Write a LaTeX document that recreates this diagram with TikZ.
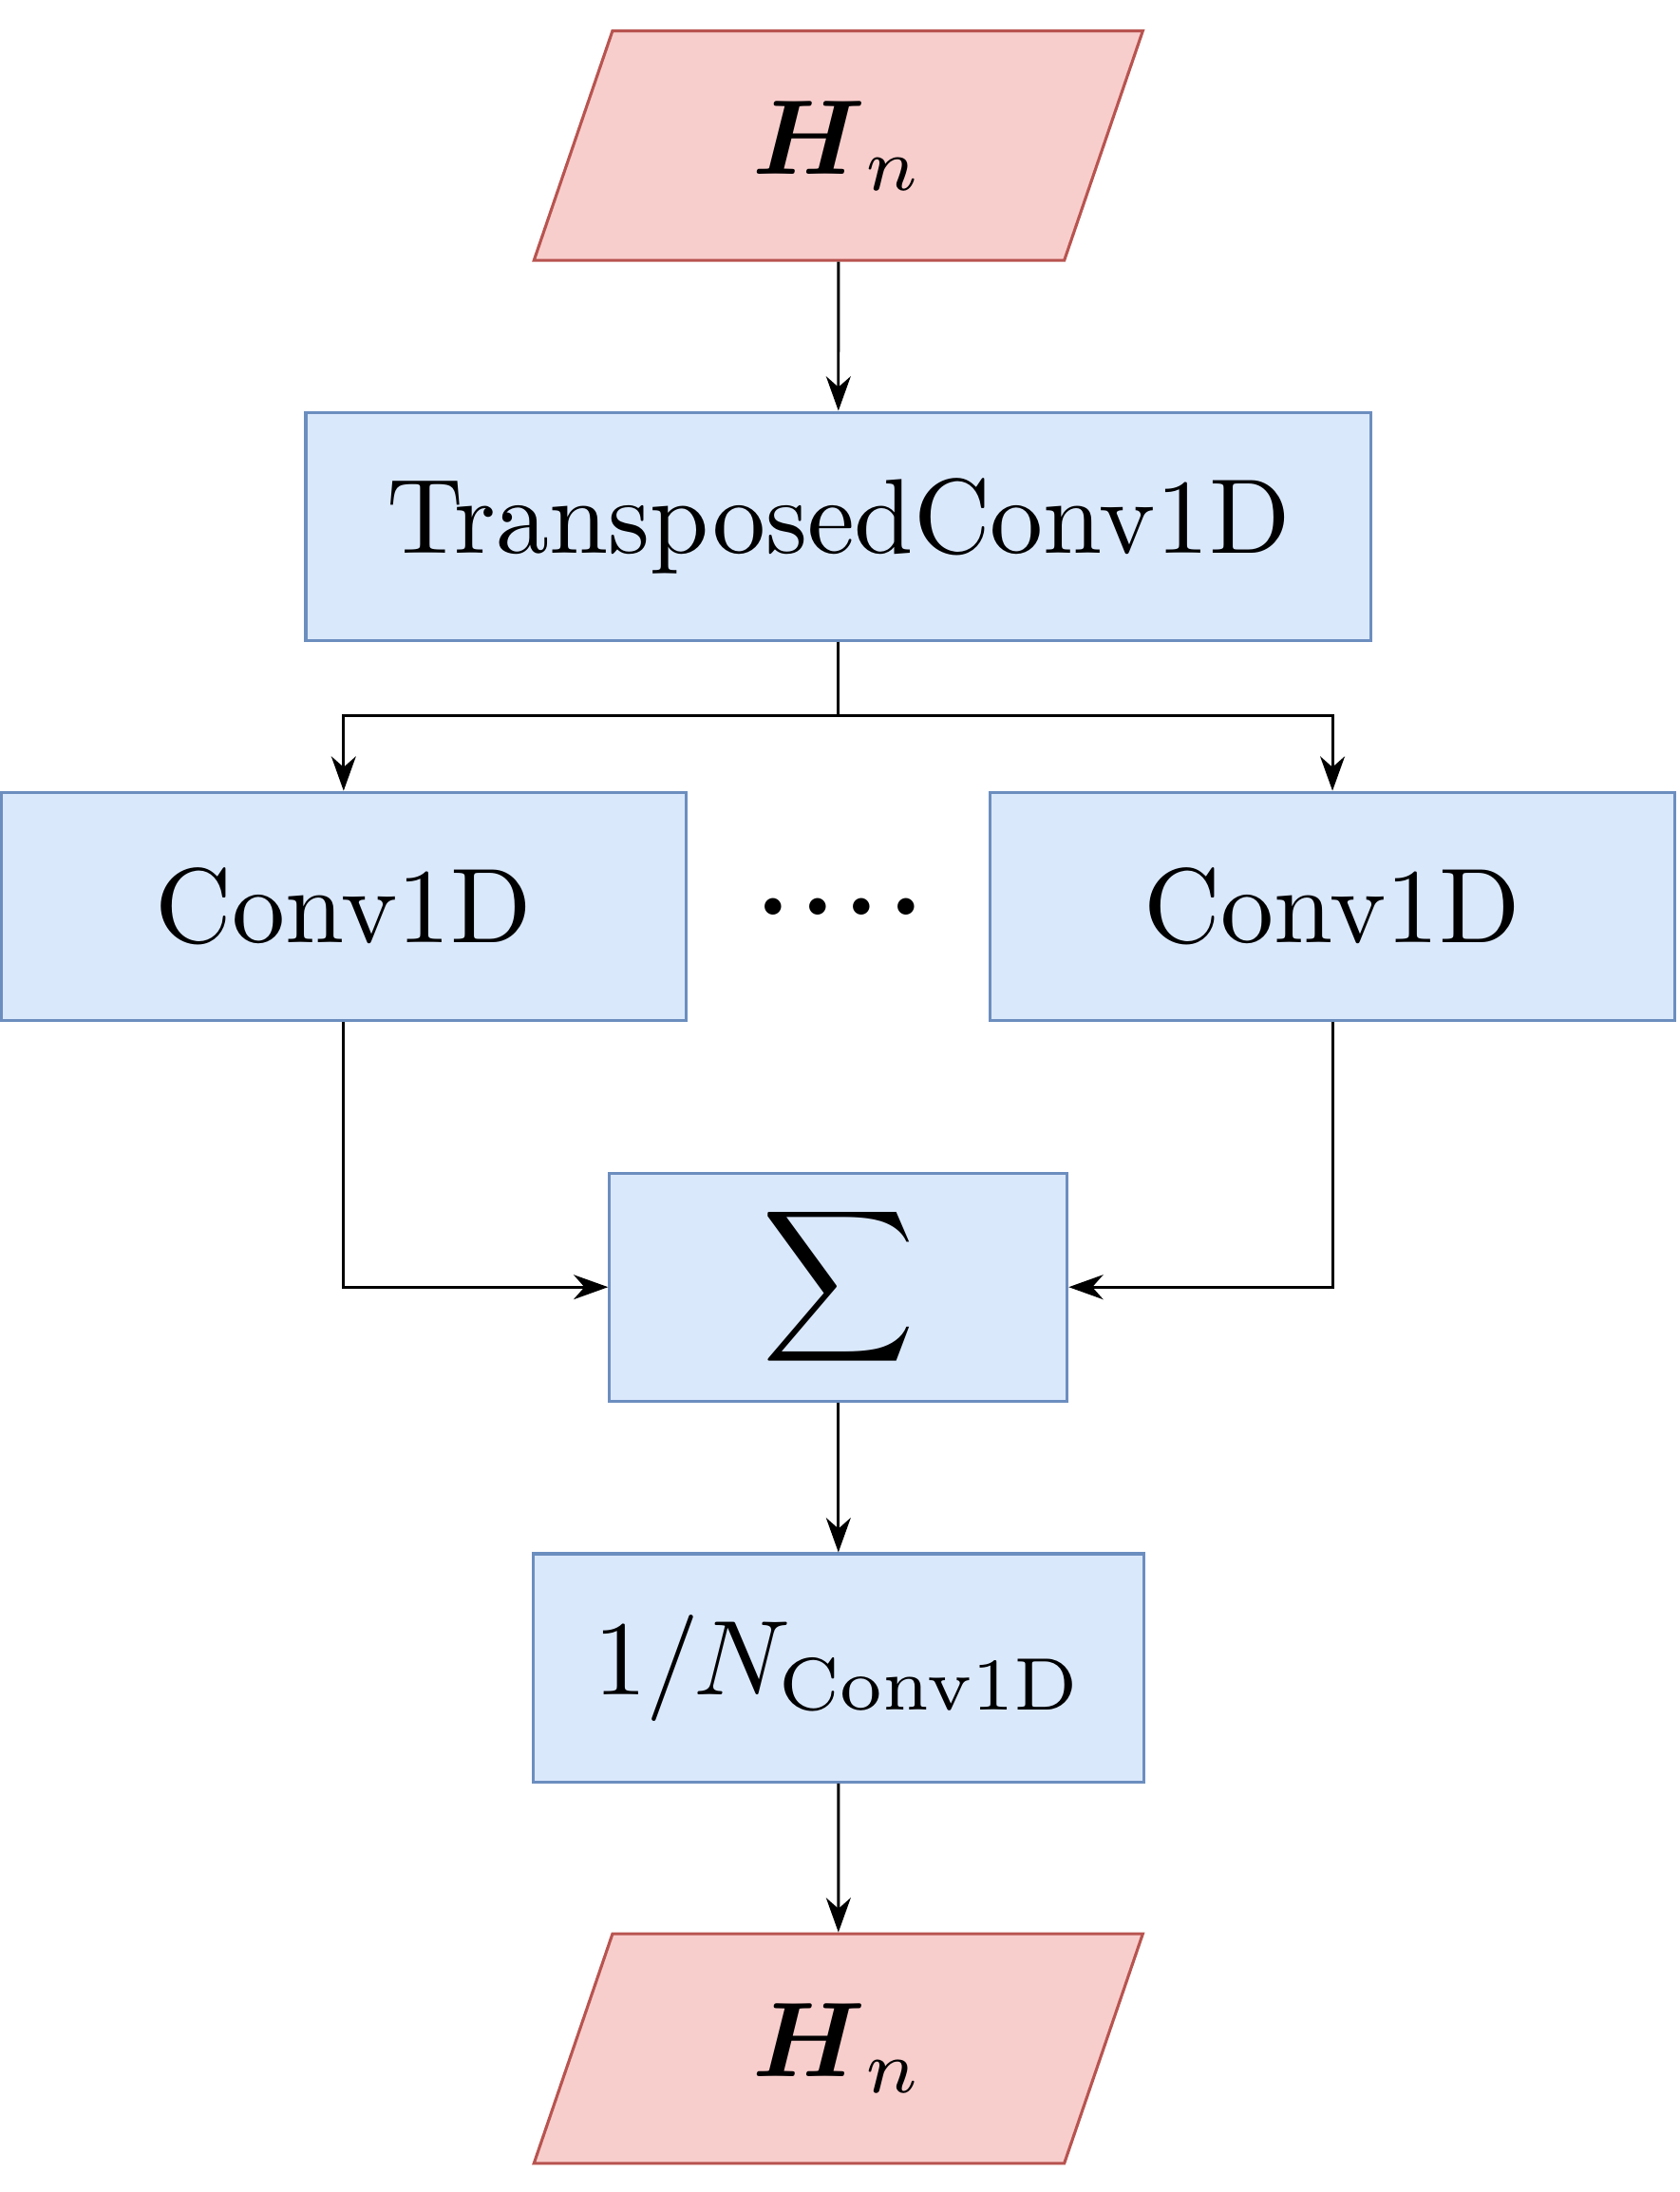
\documentclass[tikz,border=0pt]{standalone}
\usepackage{amsmath}
\usepackage{graphicx}
\usepackage{tikz}
\usetikzlibrary{arrows.meta,shapes.geometric,calc}
\definecolor{redfill}{HTML}{F8CECC}
\definecolor{redline}{HTML}{B85450}
\definecolor{bluefill}{HTML}{DAE8FC}
\definecolor{blueline}{HTML}{6C8EBF}
\newcommand{\lbl}[1]{\scalebox{2.16}{#1}}
\tikzstyle{box}=[rectangle,draw=blueline,fill=bluefill,line width=0.6pt,inner sep=0pt,minimum height=1.63cm]
\tikzstyle{io}=[trapezium,trapezium left angle=71.5,trapezium right angle=108.5,trapezium stretches=true,draw=redline,fill=redfill,line width=0.6pt,inner sep=0pt,minimum width=4.36cm,minimum height=1.64cm]
\tikzstyle{arr}=[-{Stealth[length=7pt,width=5pt,inset=2.2pt]},line width=0.55pt]

\begin{document}
\begin{tikzpicture}
      \useasboundingbox (0, 0) rectangle (12, -15.66);
      \node[io] at (5.99, -1.04) (hin) {\lbl{$\boldsymbol{H}_n$}};
      \node[box, minimum width=7.61cm] at (5.99, -3.76) (tconv) {\lbl{TransposedConv1D}};
      \node[box, minimum width=4.89cm] at (2.455, -6.475) (convl) {\lbl{Conv1D}};
      \node[box, minimum width=4.89cm] at (9.52, -6.475) (convr) {\lbl{Conv1D}};
      \node at (6.0, -6.48) (dots) {\lbl{\textbf{.\kern1pt.\kern1pt.\kern1pt.}}};
      \node[box, minimum width=3.27cm] at (5.99, -9.195) (sum) {\lbl{$\displaystyle\sum$}};
      \node[box, minimum width=4.36cm] at (5.99, -11.915) (norm) {\lbl{$1/N_{\text{Conv1D}}$}};
      \node[io] at (5.99, -14.635) (hout) {\lbl{$\boldsymbol{H}_n$}};
      \coordinate (fork) at (5.99, -5.11);
      \draw[arr] (hin) -- (tconv);
      \draw[line width=0.55pt] (tconv) -- (fork);
      \draw[arr] (fork) -| (convl);
      \draw[arr] (fork) -| (convr);
      \draw[arr] (convl) |- (sum);
      \draw[arr] (convr) |- (sum);
      \draw[arr] (sum) -- (norm);
      \draw[arr] (norm) -- (hout);
  	\end{tikzpicture}
\end{document}
